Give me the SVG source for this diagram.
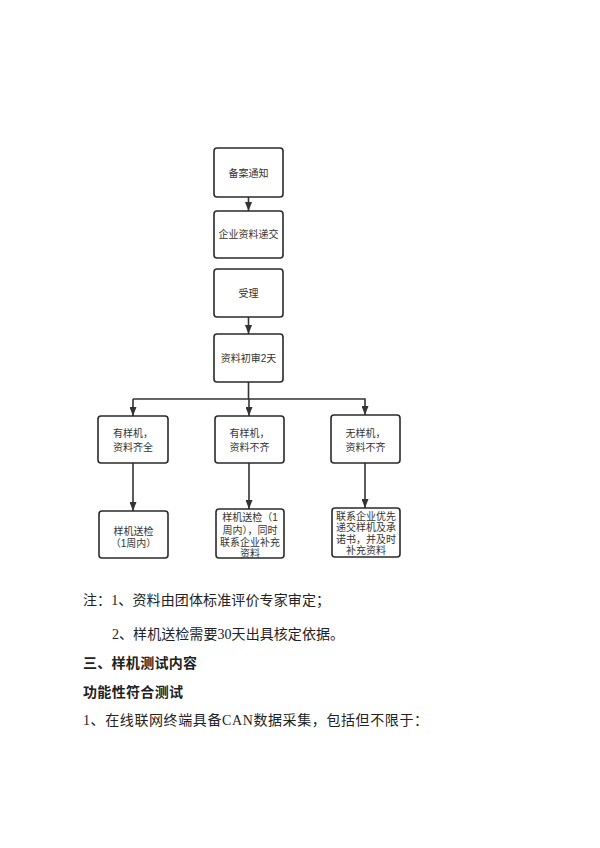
<svg xmlns="http://www.w3.org/2000/svg" width="600" height="848" viewBox="0 0 600 848">
<defs>
<style>
.box{fill:#fff;stroke:#2a2a2a;stroke-width:1.6}
.bt{font-family:"Liberation Sans","Noto Sans CJK SC",sans-serif;font-size:10px;fill:#333;text-anchor:middle}
.ln{stroke:#333;stroke-width:1.6;fill:none}
.body{font-family:"Liberation Serif","Noto Sans CJK SC",serif;font-size:14px;fill:#222}
.bold{font-weight:bold}
</style>
<marker id="ah" viewBox="0 0 9 7" refX="9" refY="3.5" markerWidth="9" markerHeight="7" orient="auto" markerUnits="userSpaceOnUse">
<path d="M0,0 L9,3.5 L0,7 z" fill="#333"/>
</marker>
</defs>
<rect width="600" height="848" fill="#fff"/>
<g id="connectors">
<line class="ln" x1="248.5" y1="197" x2="248.5" y2="211" marker-end="url(#ah)"/>
<line class="ln" x1="248.5" y1="317" x2="248.5" y2="334" marker-end="url(#ah)"/>
<line class="ln" x1="248.5" y1="382" x2="248.5" y2="399"/>
<polyline class="ln" points="133,399 365,399 365,415" marker-end="url(#ah)"/>
<line class="ln" x1="133" y1="399" x2="133" y2="416" marker-end="url(#ah)"/>
<line class="ln" x1="249" y1="399" x2="249" y2="416" marker-end="url(#ah)"/>
<line class="ln" x1="133" y1="463" x2="133" y2="511" marker-end="url(#ah)"/>
<line class="ln" x1="249" y1="463" x2="249" y2="509" marker-end="url(#ah)"/>
<line class="ln" x1="365" y1="463" x2="365" y2="508" marker-end="url(#ah)"/>
</g>
<g id="n1"><rect class="box" x="214" y="148" width="69" height="49" rx="3"/><text class="bt" x="248.5" y="176.5">备案通知</text></g>
<g id="n2"><rect class="box" x="214" y="211" width="69" height="47" rx="3"/><text class="bt" x="248.5" y="238">企业资料递交</text></g>
<g id="n3"><rect class="box" x="214" y="269" width="69" height="48" rx="3"/><text class="bt" x="248.5" y="297">受理</text></g>
<g id="n4"><rect class="box" x="214" y="334" width="69" height="48" rx="3"/><text class="bt" x="248.5" y="362">资料初审2天</text></g>
<g id="n5"><rect class="box" x="98" y="416" width="70" height="47" rx="3"/><text class="bt" x="133" y="437">有样机，</text><text class="bt" x="133" y="451">资料齐全</text></g>
<g id="n6"><rect class="box" x="215" y="416" width="69" height="47" rx="3"/><text class="bt" x="249.5" y="437">有样机，</text><text class="bt" x="249.5" y="451">资料不齐</text></g>
<g id="n7"><rect class="box" x="331" y="415" width="69" height="48" rx="3"/><text class="bt" x="365.5" y="437">无样机，</text><text class="bt" x="365.5" y="451">资料不齐</text></g>
<g id="n8"><rect class="box" x="99" y="511" width="69" height="47" rx="3"/><text class="bt" x="133.5" y="535">样机送检</text><text class="bt" x="133.5" y="547">（1周内）</text></g>
<g id="n9"><rect class="box" x="216" y="509" width="68" height="49" rx="3"/><text class="bt" x="250" y="521">样机送检（1</text><text class="bt" x="250" y="534">周内），同时</text><text class="bt" x="250" y="546">联系企业补充</text><text class="bt" x="250" y="557">资料</text></g>
<g id="n10"><rect class="box" x="332" y="508" width="68" height="49" rx="3"/><text class="bt" x="366" y="520">联系企业优先</text><text class="bt" x="366" y="531">递交样机及承</text><text class="bt" x="366" y="543">诺书，并及时</text><text class="bt" x="366" y="554">补充资料</text></g>
<g id="notes">
<text class="body" x="83" y="605" textLength="247" lengthAdjust="spacing">注：1、资料由团体标准评价专家审定；</text>
<text class="body" x="112" y="639" textLength="232" lengthAdjust="spacing">2、样机送检需要30天出具核定依据。</text>
<text class="body bold" x="83" y="668" textLength="114" lengthAdjust="spacing">三、样机测试内容</text>
<text class="body bold" x="83" y="697" textLength="100" lengthAdjust="spacing">功能性符合测试</text>
<text class="body" x="83" y="725" textLength="345" lengthAdjust="spacing">1、在线联网终端具备CAN数据采集，包括但不限于：</text>
</g>
</svg>
